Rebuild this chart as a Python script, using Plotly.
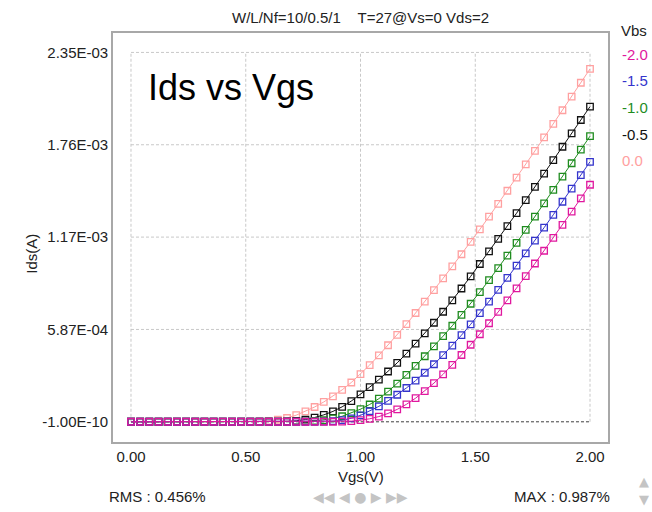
import numpy as np
import plotly.graph_objects as go

# Gate sweep (V)
vgs = [0.00, 0.04, 0.08, 0.12, 0.16, 0.20, 0.24, 0.28, 0.32, 0.36,
       0.40, 0.44, 0.48, 0.52, 0.56, 0.60, 0.64, 0.68, 0.72, 0.76,
       0.80, 0.84, 0.88, 0.92, 0.96, 1.00, 1.04, 1.08, 1.12, 1.16,
       1.20, 1.24, 1.28, 1.32, 1.36, 1.40, 1.44, 1.48, 1.52, 1.56,
       1.60, 1.64, 1.68, 1.72, 1.76, 1.80, 1.84, 1.88, 1.92, 1.96, 2.00]

# Drain current in uA for each body bias
ids_vbs_0p0 = [0, 0, 0, 0, 0, 0, 0, 0, 0, 0,
               0, 0, 0.3, 0.8, 2, 6, 13, 24, 42, 66,
               94, 126, 162, 203, 250, 303, 361, 423, 487, 553,
               621, 692, 764, 838, 913, 989, 1066, 1144, 1224, 1305,
               1387, 1470, 1554, 1638, 1723, 1809, 1895, 1982, 2069, 2157, 2245]
ids_vbs_m0p5 = [0, 0, 0, 0, 0, 0, 0, 0, 0, 0,
                0, 0, 0, 0, 0, 0.3, 0.8, 2, 6, 14,
                27, 44, 66, 95, 132, 174, 220, 268, 320, 375,
                434, 497, 562, 630, 700, 772, 848, 925, 1004, 1084,
                1164, 1245, 1327, 1410, 1494, 1579, 1665, 1750, 1835, 1920, 2005]
ids_vbs_m1p0 = [0, 0, 0, 0, 0, 0, 0, 0, 0, 0,
                0, 0, 0, 0, 0, 0, 0, 0, 0.5, 2,
                5, 11, 21, 35, 55, 80, 110, 147, 192, 243,
                298, 356, 417, 480, 545, 611, 680, 751, 825, 901,
                978, 1057, 1138, 1221, 1305, 1390, 1475, 1560, 1645, 1731, 1817]
ids_vbs_m1p5 = [0, 0, 0, 0, 0, 0, 0, 0, 0, 0,
                0, 0, 0, 0, 0, 0, 0, 0, 0, 0,
                0.3, 1, 4, 10, 22, 41, 67, 98, 133, 172,
                215, 262, 312, 366, 424, 485, 551, 620, 691, 764,
                839, 915, 993, 1072, 1153, 1235, 1317, 1400, 1484, 1569, 1654]
ids_vbs_m2p0 = [0, 0, 0, 0, 0, 0, 0, 0, 0, 0,
                0, 0, 0, 0, 0, 0, 0, 0, 0, 0,
                0, 0, 0.3, 1, 4, 10, 19, 33, 53, 79,
                111, 150, 195, 246, 302, 362, 425, 490, 557, 627,
                699, 773, 849, 927, 1007, 1088, 1170, 1253, 1337, 1422, 1508]

vbs_labels = ["-2.0", "-1.5", "-1.0", "-0.5", "0.0"]
vbs_colors = ["#e0189e", "#3434cc", "#1f8c1f", "#111111", "#ffa0a0"]
vbs_data = [ids_vbs_m2p0, ids_vbs_m1p5, ids_vbs_m1p0, ids_vbs_m0p5, ids_vbs_0p0]

y_tick_vals = [-1.0e-10, 5.875e-4, 1.175e-3, 1.7625e-3, 2.35e-3]
y_tick_text = ["-1.00E-10", "5.87E-04", "1.17E-03", "1.76E-03", "2.35E-03"]
x_tick_vals = [0.0, 0.5, 1.0, 1.5, 2.0]
x_tick_text = ["0.00", "0.50", "1.00", "1.50", "2.00"]

FONT = "Liberation Sans, Arial, sans-serif"
TXT = "#222222"

fig = go.Figure()

# draw order: light pink first, magenta last (on top at the baseline)
for label, color, ids in reversed(list(zip(vbs_labels, vbs_colors, vbs_data))):
    fig.add_trace(go.Scatter(
        x=vgs,
        y=np.array(ids) * 1e-6,
        mode="lines+markers",
        name=label,
        line=dict(color=color, width=1),
        marker=dict(symbol="square-open", size=6.5, color=color,
                    line=dict(color=color, width=1.3)),
        showlegend=False,
    ))

# dashed grid confined to the tick span
grid_style = dict(color="#c8c8c8", width=1, dash="3px,2px")
for yv in y_tick_vals:
    fig.add_shape(type="line", xref="x", yref="y",
                  x0=x_tick_vals[0], x1=x_tick_vals[-1], y0=yv, y1=yv,
                  line=grid_style, layer="below")
for xv in x_tick_vals:
    fig.add_shape(type="line", xref="x", yref="y",
                  x0=xv, x1=xv, y0=y_tick_vals[0], y1=y_tick_vals[-1],
                  line=grid_style, layer="below")

# dark dashed reference at zero current
fig.add_shape(type="line", xref="x", yref="y",
              x0=x_tick_vals[0], x1=x_tick_vals[-1], y0=0, y1=0,
              line=dict(color="#555555", width=1, dash="3px,2px"),
              layer="below")

axis_common = dict(
    showline=True, mirror=True, linecolor="#a8a8a8", linewidth=1.6,
    showgrid=False, zeroline=False, ticks="",
    tickfont=dict(family=FONT, size=15, color=TXT),
)

fig.update_xaxes(range=[-0.0784, 2.0784], tickvals=x_tick_vals,
                 ticktext=x_tick_text, **axis_common)
fig.update_yaxes(range=[-1.287e-4, 2.4736e-3], tickvals=y_tick_vals,
                 ticktext=y_tick_text, **axis_common)

annotations = [
    dict(text="W/L/Nf=10/0.5/1\u00a0\u00a0\u00a0\u00a0T=27@Vs=0 Vds=2",
         xref="paper", yref="paper", x=0.5, y=1.037,
         xanchor="center", yanchor="middle", showarrow=False,
         font=dict(family=FONT, size=15, color=TXT)),
    dict(text="Ids vs Vgs", xref="paper", yref="paper", x=0.066, y=0.866,
         xanchor="left", yanchor="middle", showarrow=False,
         font=dict(family=FONT, size=36, color="#000000")),
    dict(text="Ids(A)", xref="paper", yref="paper", x=-0.164, y=0.46,
         xanchor="center", yanchor="middle", showarrow=False, textangle=-90,
         font=dict(family=FONT, size=15, color=TXT)),
    dict(text="Vgs(V)", xref="paper", yref="paper", x=0.5, y=-0.084,
         xanchor="center", yanchor="middle", showarrow=False,
         font=dict(family=FONT, size=15, color=TXT)),
    dict(text="RMS : 0.456%", xref="paper", yref="paper", x=-0.012, y=-0.133,
         xanchor="left", yanchor="middle", showarrow=False,
         font=dict(family=FONT, size=15, color=TXT)),
    dict(text="MAX : 0.987%", xref="paper", yref="paper", x=1.008, y=-0.133,
         xanchor="right", yanchor="middle", showarrow=False,
         font=dict(family=FONT, size=15, color=TXT)),
    dict(text="\u25c0\u25c0\u00a0\u25c0\u00a0\u25cf\u00a0\u25b6\u00a0\u25b6\u25b6",
         xref="paper", yref="paper",
         x=0.5, y=-0.135, xanchor="center", yanchor="middle", showarrow=False,
         font=dict(family="DejaVu Sans", size=14, color="#c4c4c4")),
    dict(text="\u25b2", xref="paper", yref="paper", x=1.072, y=-0.097,
         xanchor="center", yanchor="middle", showarrow=False,
         font=dict(family="DejaVu Sans", size=13, color="#c4c4c4")),
    dict(text="\u25bc", xref="paper", yref="paper", x=1.072, y=-0.14,
         xanchor="center", yanchor="middle", showarrow=False,
         font=dict(family="DejaVu Sans", size=13, color="#c4c4c4")),
    dict(text="Vbs", xref="paper", yref="paper", x=1.022, y=1.0055,
         xanchor="left", yanchor="middle", showarrow=False,
         font=dict(family=FONT, size=15, color=TXT)),
]

# body-bias key, text coloured like its curve
for i, (label, color) in enumerate(zip(vbs_labels, vbs_colors)):
    annotations.append(dict(
        text=label, xref="paper", yref="paper", x=1.024,
        y=0.9485 - i * 0.0653, xanchor="left", yanchor="middle",
        showarrow=False, font=dict(family=FONT, size=15, color=color)))

fig.update_layout(
    width=652, height=512,
    margin=dict(l=113, r=44, t=33, b=70),
    paper_bgcolor="white", plot_bgcolor="white",
    font=dict(family=FONT),
    annotations=annotations,
)

fig.write_html("out.html", config={"displayModeBar": False})
